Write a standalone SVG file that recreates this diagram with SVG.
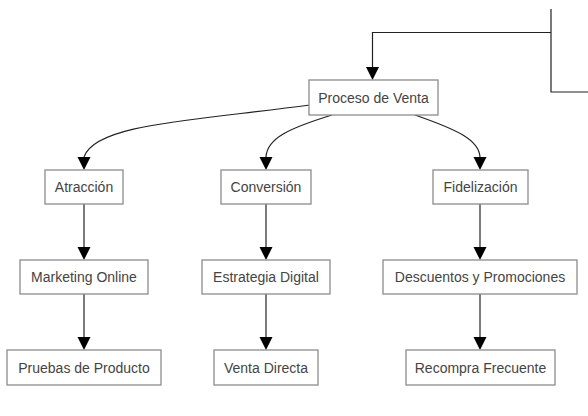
<svg xmlns="http://www.w3.org/2000/svg" width="588" height="416" viewBox="0 0 588 416">
<style>
.n rect{fill:#fff;stroke:#8c8c8c;stroke-width:1.3}
.n text{font-family:"Liberation Sans",Arial,sans-serif;font-size:14px;fill:#444;text-anchor:middle;dominant-baseline:central}
.e path{fill:none;stroke:#222;stroke-width:1.2}
.ah{fill:#000}
</style>
<defs>
<path id="tri" d="M-6.5,-13 L6.5,-13 L0,0 Z"/>
</defs>
<rect width="588" height="416" fill="#fff"/>
<g class="e" id="connectors">
<path d="M551,9 L551,92 L588,92"/>
<path d="M551,32.5 L372.5,32.5 L372.5,67"/>
<path d="M310,105 C190,121 95,124 84,157"/>
<path d="M332,115 C290,128 267,138 266,157"/>
<path d="M415,115 C458,130 479,140 480,157"/>
<path d="M84,204 L84,247"/>
<path d="M84,294 L84,337"/>
<path d="M266,204 L266,247"/>
<path d="M266,294 L266,337"/>
<path d="M480,204 L480,247"/>
<path d="M480,294 L480,337"/>
<g id="arrowheads" class="ah">
<use href="#tri" x="372.5" y="80"/>
<use href="#tri" x="84" y="170"/>
<use href="#tri" x="266" y="170"/>
<use href="#tri" x="480" y="170"/>
<use href="#tri" x="84" y="260"/>
<use href="#tri" x="266" y="260"/>
<use href="#tri" x="480" y="260"/>
<use href="#tri" x="84" y="350"/>
<use href="#tri" x="266" y="350"/>
<use href="#tri" x="480" y="350"/>
</g>
</g>
<g class="n" id="proceso"><rect x="309" y="80" width="129" height="35"/><text x="373.5" y="97.5">Proceso de Venta</text></g>
<g class="n" id="atraccion"><rect x="45" y="170" width="78" height="34"/><text x="84" y="187">Atracción</text></g>
<g class="n" id="conversion"><rect x="221" y="170" width="90" height="34"/><text x="266" y="187">Conversión</text></g>
<g class="n" id="fidelizacion"><rect x="433" y="170" width="95" height="34"/><text x="480.5" y="187">Fidelización</text></g>
<g class="n" id="marketing"><rect x="20" y="260" width="128" height="34"/><text x="84" y="277">Marketing Online</text></g>
<g class="n" id="estrategia"><rect x="202" y="260" width="128" height="34"/><text x="266" y="277">Estrategia Digital</text></g>
<g class="n" id="descuentos"><rect x="383" y="260" width="194" height="34"/><text x="480" y="277">Descuentos y Promociones</text></g>
<g class="n" id="pruebas"><rect x="7" y="350" width="154" height="35"/><text x="84" y="367.5">Pruebas de Producto</text></g>
<g class="n" id="venta"><rect x="214" y="350" width="104" height="35"/><text x="266" y="367.5">Venta Directa</text></g>
<g class="n" id="recompra"><rect x="406" y="350" width="149" height="35"/><text x="480.5" y="367.5">Recompra Frecuente</text></g>
</svg>
